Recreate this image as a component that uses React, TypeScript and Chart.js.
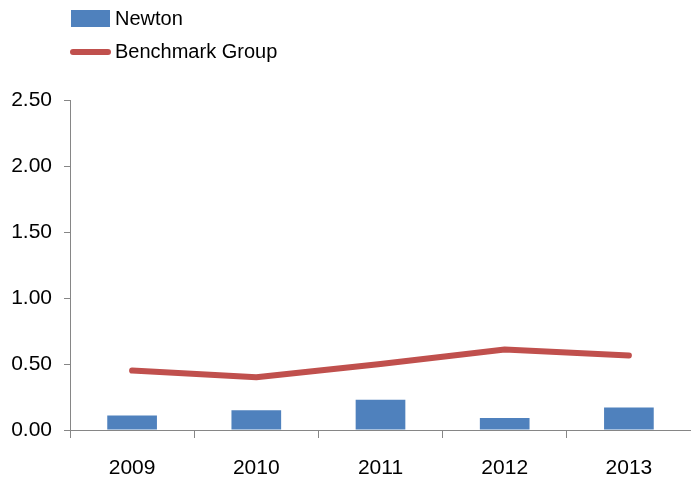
import React, { useEffect, useRef } from "react";
import { Chart, registerables } from "chart.js";

Chart.register(...registerables);

const categories = ["2009", "2010", "2011", "2012", "2013"];
const newtonValues = [0.11, 0.15, 0.23, 0.09, 0.17];
const benchmarkValues = [0.45, 0.4, 0.5, 0.61, 0.565];
const seriesNames = ["Newton", "Benchmark Group"];

const FONT = "'Liberation Sans Narrow', 'Liberation Sans', Arial, sans-serif";
const BLUE = "#4F81BD";
const RED = "#C0504D";
const AXIS = "#868686";

const legendPlugin = {
  id: "customLegend",
  afterDraw(chart: any) {
    const ctx = chart.ctx;
    const ds = chart.data.datasets;
    ctx.save();
    ctx.font = `20px ${FONT}`;
    ctx.textBaseline = "middle";
    ctx.textAlign = "left";
    ctx.fillStyle = ds[0].backgroundColor;
    ctx.fillRect(71, 10, 39, 17);
    ctx.fillStyle = "#000";
    ctx.fillText(ds[0].label, 115, 19);
    ctx.strokeStyle = ds[1].borderColor;
    ctx.lineWidth = 6;
    ctx.lineCap = "round";
    ctx.beginPath();
    ctx.moveTo(73, 52);
    ctx.lineTo(108, 52);
    ctx.stroke();
    ctx.fillText(ds[1].label, 115, 52);
    ctx.restore();
  },
};

export default function App() {
  const ref = useRef<HTMLCanvasElement>(null);
  useEffect(() => {
    if (!ref.current) return;
    const chart = new Chart(ref.current, {
      type: "bar",
      data: {
        labels: categories,
        datasets: [
          {
            type: "bar",
            label: seriesNames[0],
            data: newtonValues,
            backgroundColor: BLUE,
            barPercentage: 0.4,
            categoryPercentage: 1,
            order: 2,
          },
          {
            type: "line",
            label: seriesNames[1],
            data: benchmarkValues,
            borderColor: RED,
            backgroundColor: RED,
            borderWidth: 6,
            pointRadius: 0,
            tension: 0,
            borderCapStyle: "round",
            borderJoinStyle: "round",
            order: 1,
          } as any,
        ],
      },
      options: {
        responsive: false,
        animation: false,
        layout: { padding: { top: 100, left: 0, right: 0, bottom: 0 } },
        plugins: { legend: { display: false }, tooltip: { enabled: false } },
        scales: {
          x: {
            grid: {
              offset: true,
              drawOnChartArea: false,
              drawTicks: true,
              tickLength: 8,
              color: AXIS,
            },
            border: { color: AXIS, width: 1 },
            ticks: {
              color: "#000",
              font: { family: FONT, size: 21 },
              padding: 18,
              maxRotation: 0,
            },
            afterFit: (s: any) => {
              s.height = 50;
            },
          },
          y: {
            min: 0,
            max: 2.5,
            grid: {
              drawOnChartArea: false,
              drawTicks: true,
              tickLength: 6,
              color: AXIS,
            },
            border: { color: AXIS, width: 1 },
            ticks: {
              stepSize: 0.5,
              color: "#000",
              font: { family: FONT, size: 21 },
              padding: 12,
              callback: (v: any) => Number(v).toFixed(2),
            },
            afterFit: (s: any) => {
              s.width = 70;
            },
          },
        },
      },
      plugins: [legendPlugin],
    });
    return () => chart.destroy();
  }, []);
  return (
    <div style={{ position: "absolute", left: 0, top: 0, width: 691, height: 480, background: "#fff" }}>
      <canvas ref={ref} width={691} height={480} style={{ display: "block" }} />
    </div>
  );
}
